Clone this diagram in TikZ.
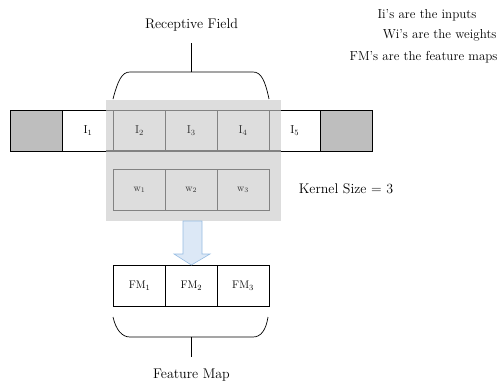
\documentclass[tikz,border=0pt]{standalone}
\usetikzlibrary{positioning}
\definecolor{padgray}{RGB}{190,190,190}
\definecolor{veil}{RGB}{221,221,221}
\definecolor{veilline}{RGB}{130,130,130}
\definecolor{veiltext}{RGB}{45,45,45}
\definecolor{arrowfill}{RGB}{220,232,246}
\definecolor{arrowline}{RGB}{150,188,226}
\tikzset{
  cell/.style={draw=black, line width=0.9pt, minimum width=51.7pt, minimum height=41pt,
               inner sep=0pt, font=\fontsize{11.5}{12}\selectfont, anchor=north west},
  padcell/.style={cell, fill=padgray},
  wincell/.style={cell, draw=veilline, line width=0.6pt, text=veiltext},
  fmcell/.style={draw=black, line width=0.8pt, minimum width=51.7pt, minimum height=41pt,
               inner sep=0pt, font=\fontsize{11}{12}\selectfont, anchor=north west},
  brace/.style={line width=0.7pt},
  stem/.style={line width=1.3pt},
  caption/.style={font=\fontsize{14}{16}\selectfont},
  legend/.style={font=\fontsize{13}{15}\selectfont},
}
\begin{document}
\begin{tikzpicture}[x=1pt,y=-1pt]
\useasboundingbox (0,0) rectangle (503,384);

% input row (outer cells)
\node[padcell] (p0) at (10,110) {};
\node[cell] (i1) at (61.7,110) {I$_1$};
\node[cell] (i5) at (268.5,110) {I$_5$};
\node[padcell] (p1) at (320.2,110) {};
\draw[line width=0.9pt] (i1.north east) -- (i5.north west);
\draw[line width=0.9pt] (i1.south east) -- (i5.south west);

% receptive-field window
\fill[veil] (106,100) rectangle (281,221);
\draw[veilline, line width=0.6pt] (106,110) -- (281,110);
\draw[veilline, line width=1.2pt] (106,151) -- (281,151);

% inputs inside the window
\node[wincell] (i2) at (113.4,110) {I$_2$};
\node[wincell] (i3) at (165.1,110) {I$_3$};
\node[wincell] (i4) at (216.8,110) {I$_4$};

% kernel weights
\node[wincell] (w1) at (113.4,169) {\fontsize{10}{12}\selectfont w$_1$};
\node[wincell] (w2) at (165.1,169) {\fontsize{10}{12}\selectfont w$_2$};
\node[wincell] (w3) at (216.8,169) {\fontsize{10}{12}\selectfont w$_3$};

% kernel size note
\node[caption] (ks) at (346,189) {Kernel Size = 3};

% feature map cells and convolution arrow
\node[fmcell] (f1) at (113.4,265) {FM$_1$};
\node[fmcell] (f2) at (165.1,265) {FM$_2$};
\node[fmcell] (f3) at (216.8,265) {FM$_3$};
\draw[fill=arrowfill, draw=arrowline, line width=0.6pt]
  (183,221) -- (202,221) -- (202,254) -- (210,254) -- (f2.north) -- (174,254) -- (183,254) -- cycle;

% receptive field brace
\node[caption] (rf) at (191.5,25) {Receptive Field};
\coordinate (rftop) at (191.5,72);
\draw[brace] (113,99) .. controls (118,80) and (122,72) .. (130,72) -- (253,72)
  .. controls (261,72) and (265,80) .. (269,99);
\draw[stem] (rftop) -- ++(0,-29);

% feature map brace
\coordinate (fmbrace) at (191.5,337);
\draw[brace] (113,317) .. controls (116,330) and (122,337) .. (130,337) -- (253,337)
  .. controls (261,337) and (266,330) .. (268,317);
\draw[stem] (fmbrace) -- ++(0,20);
\node[caption] (fm) at (191.5,375) {Feature Map};

% legend
\node[legend] (lg1) at (427,15) {Ii's are the inputs};
\node[legend, anchor=east] (lg2) at (500,35) {Wi's are the weights};
\node[legend, anchor=east] (lg3) at (501,57) {FM's are the feature maps};
\end{tikzpicture}
\end{document}
